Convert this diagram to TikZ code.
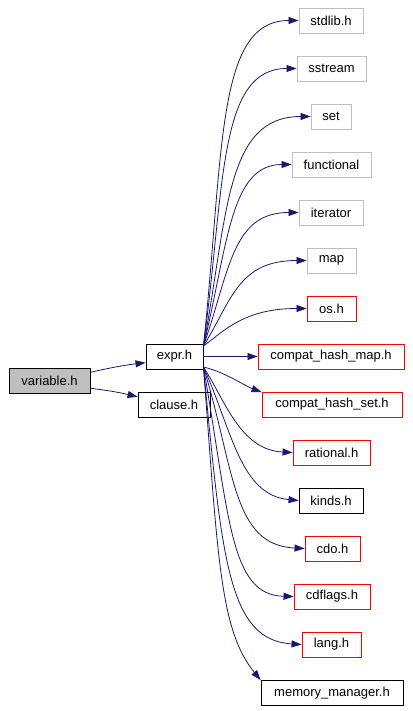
\documentclass[tikz,border=0pt]{standalone}
\usepackage{fontspec}
\setmainfont{Liberation Sans}
\usetikzlibrary{arrows.meta, calc}
\definecolor{edgeblue}{RGB}{25,25,112}
\definecolor{sysgray}{RGB}{191,191,191}
\definecolor{missred}{RGB}{255,0,0}
\tikzset{
  hdr/.style={rectangle, draw=black, fill=white, minimum height=25pt,
    inner sep=0pt, line width=0.9pt, font=\fontsize{13}{15}\selectfont},
  syshdr/.style={hdr, draw=sysgray},
  redhdr/.style={hdr, draw=missred},
  roothdr/.style={hdr, fill=sysgray},
  dep/.style={-{Triangle[length=10pt,width=7pt]}, color=edgeblue, line width=0.8pt}
}

\begin{document}
\begin{tikzpicture}[x=1pt, y=-1pt]
  \useasboundingbox (0,0) rectangle (412,711);

  % Left side
  \node[roothdr, minimum width=81pt] (variable) at (49.5,381) {variable.h};
  \node[hdr, minimum width=57pt] (expr) at (174.5,356.5) {expr.h};
  \node[hdr, minimum width=72pt] (clause) at (174,404.5) {clause.h};

  % Included headers
  \node[syshdr, minimum width=64pt]  (stdlib)     at (331,20.5)    {stdlib.h};
  \node[syshdr, minimum width=69pt]  (sstream)    at (331.5,68.5)  {sstream};
  \node[syshdr, minimum width=40pt]  (set)        at (331,116.5)   {set};
  \node[syshdr, minimum width=79pt]  (functional) at (331.5,164.5) {functional};
  \node[syshdr, minimum width=64pt]  (iterator)   at (331,212.5)   {iterator};
  \node[syshdr, minimum width=49pt]  (map)        at (331.5,260.5) {map};
  \node[redhdr, minimum width=49pt]  (os)         at (331.5,308.5) {os.h};
  \node[redhdr, minimum width=146pt] (hashmap)    at (331,356.5)   {compat\_hash\_map.h};
  \node[redhdr, minimum width=140pt] (hashset)    at (332,404.5)   {compat\_hash\_set.h};
  \node[redhdr, minimum width=77pt]  (rational)   at (331.5,452.5) {rational.h};
  \node[hdr, minimum width=64pt]     (kinds)      at (331,500.5)   {kinds.h};
  \node[redhdr, minimum width=55pt]  (cdo)        at (332.5,548.5) {cdo.h};
  \node[redhdr, minimum width=76pt]  (cdflags)    at (332,596.5)   {cdflags.h};
  \node[redhdr, minimum width=59pt]  (lang)       at (331.5,644.5) {lang.h};
  \node[hdr, minimum width=142pt]    (memory)     at (332,693)     {memory\_manager.h};

  % variable.h
  \draw[dep] (variable.12) to[bend left=3] (expr.192);
  \draw[dep] (variable.-10) to[bend left=3] (clause.168);

  % expr.h, upwards
  \draw[dep] (expr.20) .. controls (224,150) and (216,20.5) .. (stdlib.west);
  \draw[dep] (expr.20) .. controls (225,185) and (218,68.5) .. (sstream.west);
  \draw[dep] (expr.20) .. controls (228,215) and (225,116.5) .. (set.west);
  \draw[dep] (expr.20) .. controls (228,245) and (230,164.5) .. (functional.west);
  \draw[dep] (expr.20) .. controls (230,270) and (232,212.5) .. (iterator.west);
  \draw[dep] (expr.20) .. controls (232,300) and (238,260.5) .. (map.west);
  \draw[dep] (expr.20) .. controls (225,330) and (245,308.5) .. (os.west);
  \draw[dep] (expr.east) -- (hashmap.west);

  % expr.h, downwards
  \draw[dep] (expr.-20) .. controls (225,372) and (245,386) .. (hashset.170);
  \draw[dep] (expr.-20) .. controls (225,400) and (240,450) .. (rational.west);
  \draw[dep] (expr.-20) .. controls (232,430) and (240,495) .. (kinds.west);
  \draw[dep] (expr.-20) .. controls (235,470) and (232,545) .. (cdo.west);
  \draw[dep] (expr.-20) .. controls (230,520) and (230,595) .. (cdflags.west);
  \draw[dep] (expr.-20) .. controls (222,560) and (228,640) .. (lang.west);
  \draw[dep] (expr.-20) .. controls (218,560) and (220,630) .. (memory.north west);
\end{tikzpicture}
\end{document}
